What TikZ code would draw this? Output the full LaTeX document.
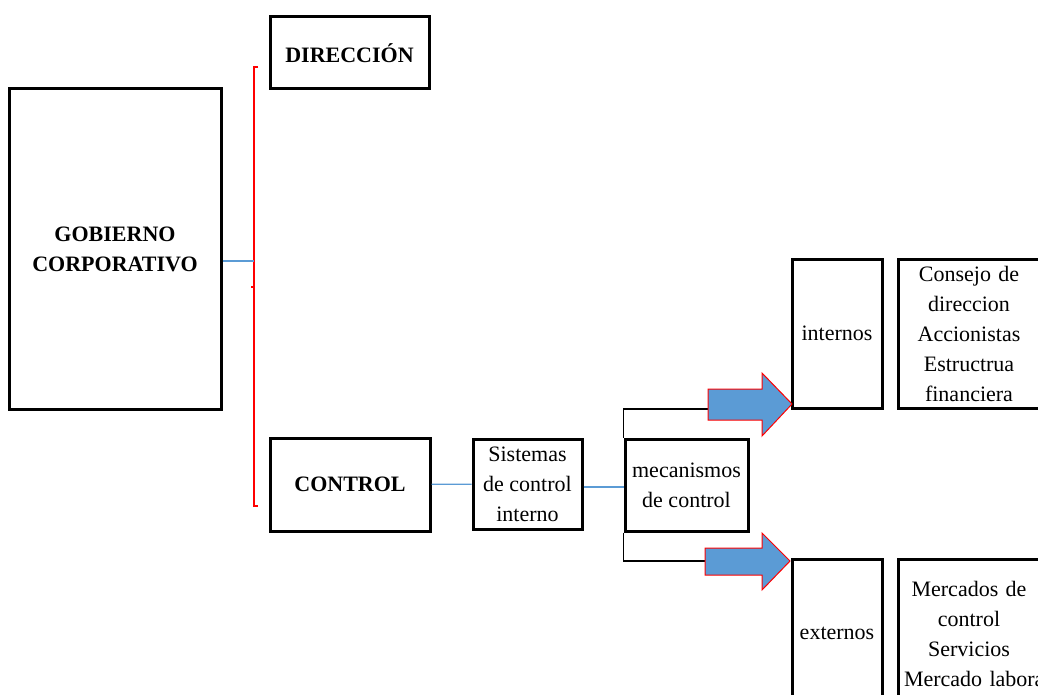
\documentclass[tikz,border=0pt]{standalone}
\usepackage{fontspec}
\setmainfont{Liberation Serif}
\definecolor{accblue}{RGB}{91,155,213}
\tikzset{
  box/.style={draw, line width=3pt, inner sep=0pt, align=center, font=\fontsize{22}{30}\selectfont},
  link/.style={accblue, line width=1.3pt},
  bigarrow/.style={fill=accblue, draw=red, line width=1pt, line join=miter}
}
\begin{document}
\begin{tikzpicture}[x=1pt,y=-1pt]
  \clip (0,0) rectangle (1038,695);
  \fill[white] (0,0) rectangle (1038,695);
  % left part
  \node[box, minimum width=212pt, minimum height=320pt] (gob) at (115,249) {\textbf{GOBIERNO}\\\textbf{CORPORATIVO}};
  \node[box, minimum width=159pt, minimum height=72pt] (dir) at (349.5,53) {\textbf{DIRECCIÓN}};
  \node[box, minimum width=160pt, minimum height=93pt] (ctrl) at (350,484.5) {\textbf{CONTROL}};
  \node[box, minimum width=109pt, minimum height=90pt] (sis) at (527.5,484) {Sistemas\\de control\\interno};
  \node[box, minimum width=123pt, minimum height=92pt] (mec) at (686.5,485) {mecanismos\\de control};
  % right part
  \node[box, minimum width=90pt, minimum height=149pt] (int) at (837,333.5) {internos};
  \node[box, minimum width=142pt, minimum height=149pt, text width=130pt] (cons) at (969,333.5) {Consejo de\\direccion\\Accionistas\\Estructrua\\financiera};
  \node[box, minimum width=90pt, minimum height=149pt] (ext) at (837,633.5) {externos};
  \node[box, minimum width=142pt, minimum height=149pt, text width=130pt] (merc) at (969,633.5) {Mercados de\\control\\Servicios\\\mbox{Mercado laboral}};
  % bracket
  \coordinate (brk) at (254,261);
  \draw[red, line width=1.2pt] (258,67) -- (254,67) -- (254,506) -- (258,506);
  \draw[red, line width=1.2pt] (254,287) -- (251,287);
  \draw[link] (gob.east |- brk) -- (brk);
  \draw[link] (ctrl) -- (sis);
  \draw[link] (sis.east |- 0,487) -- (mec.west |- 0,487);
  % elbows and block arrows
  \coordinate (t1) at (708,409);
  \coordinate (t2) at (705,561);
  \draw[line width=1.8pt] (mec.north west) |- (t1);
  \draw[line width=1.8pt] (mec.south west) |- (t2);
  \foreach \tx/\cy/\sw/\hw/\tipx/\tipy in {708/404.5/15.5/31.5/792/404, 705/561.5/13.5/28.5/790/561}{
    \draw[bigarrow] (\tx,\cy-\sw) -- (762,\cy-\sw) -- (762,\cy-\hw) -- (\tipx,\tipy)
      -- (762,\cy+\hw) -- (762,\cy+\sw) -- (\tx,\cy+\sw) -- cycle;
  }
\end{tikzpicture}
\end{document}
